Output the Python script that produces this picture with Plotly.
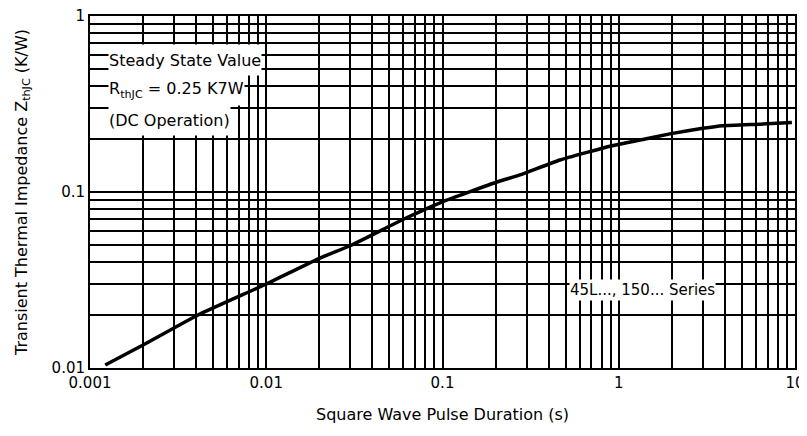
import plotly.graph_objects as go

# Curve data
pulse_s = [0.00122, 0.002, 0.0041, 0.01, 0.02, 0.0306, 0.06, 0.1, 0.204, 0.275,
           0.464, 0.893, 1.41, 1.95, 3.0, 3.9, 6.3, 9.6]
zth_kw = [0.0104, 0.0135, 0.020, 0.030, 0.042, 0.050, 0.070, 0.088, 0.114, 0.125,
          0.152, 0.182, 0.200, 0.214, 0.230, 0.238, 0.243, 0.248]

x_decades = [0.001, 0.01, 0.1, 1, 10]
x_labels = ["0.001", "0.01", "0.1", "1", "10"]
y_decades = [0.01, 0.1, 1]
y_labels = ["0.01", "0.1", "1"]


def grid_vals(decades, labels):
    vals, texts = [], []
    for i, d in enumerate(decades):
        if i < len(decades) - 1:
            for m in range(1, 10):
                vals.append(d * m)
                texts.append(labels[i] if m == 1 else "")
        else:
            vals.append(d)
            texts.append(labels[i])
    return vals, texts


xv, xt = grid_vals(x_decades, x_labels)
yv, yt = grid_vals(y_decades, y_labels)

FONT = "DejaVu Sans"

fig = go.Figure()
fig.add_trace(go.Scatter(x=pulse_s, y=zth_kw, mode="lines",
                         line=dict(color="black", width=3.5, shape="spline", smoothing=0.4),
                         showlegend=False, hoverinfo="skip"))

# page body has an 8px margin, so the figure is sized to fit the 807x436 window
fig.update_layout(
    width=799, height=428,
    margin=dict(l=82, r=12, t=8, b=68),
    paper_bgcolor="white", plot_bgcolor="white",
    font=dict(family=FONT, size=15, color="black"),
    xaxis=dict(type="log", range=[-3, 1], tickvals=xv, ticktext=xt,
               showgrid=True, gridcolor="black", gridwidth=2,
               showline=True, linecolor="black", linewidth=2, mirror=True,
               ticks="", zeroline=False, automargin=False,
               ticklabeloverflow="allow", tickfont=dict(size=15),
               title=dict(text="Square Wave Pulse Duration (s)", standoff=18,
                          font=dict(size=16))),
    yaxis=dict(type="log", range=[-2, 0], tickvals=yv, ticktext=yt,
               showgrid=True, gridcolor="black", gridwidth=2,
               showline=True, linecolor="black", linewidth=2, mirror=True,
               ticks="", zeroline=False, automargin=False,
               ticklabeloverflow="allow", tickfont=dict(size=15),
               title=dict(text="Transient Thermal Impedance Z<sub>thJC</sub> (K/W)",
                          standoff=20, font=dict(size=16))),
)

notes = [
    ("Steady State Value", 0.875),
    ("R<sub>thJC</sub> = 0.25 K7W", 0.79),
    ("(DC Operation)", 0.7045),
]
for text, py in notes:
    fig.add_annotation(text=text, xref="paper", yref="paper", x=0.0255, y=py,
                       xanchor="left", yanchor="middle", showarrow=False,
                       bgcolor="white", borderpad=0, height=30, valign="middle",
                       font=dict(family=FONT, size=16, color="black"))

fig.add_annotation(text="45L..., 150... Series", xref="paper", yref="paper",
                   x=0.784, y=0.222, xanchor="center", yanchor="middle",
                   showarrow=False, bgcolor="white", borderpad=0, height=20,
                   font=dict(family=FONT, size=15, color="black"))

fig.write_html("out.html")
